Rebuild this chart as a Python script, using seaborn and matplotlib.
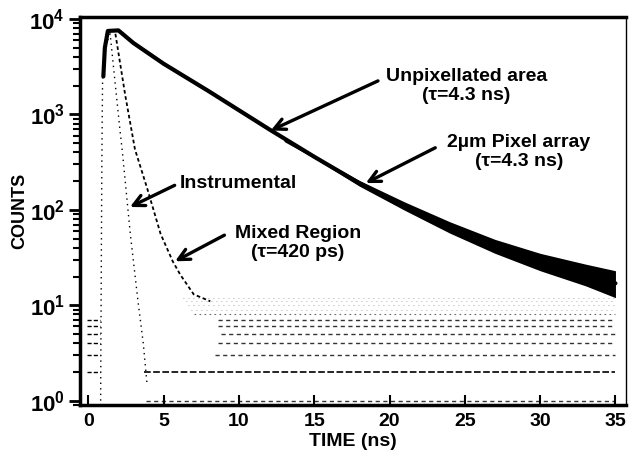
import numpy as np
import pandas as pd
import seaborn as sns
import matplotlib.pyplot as plt

sns.set_style("ticks", {'text.color': 'black', 'axes.labelcolor': 'black',
                        'xtick.color': 'black', 'ytick.color': 'black',
                        'axes.edgecolor': 'black'})
plt.rcParams['font.family'] = ['Liberation Sans', 'DejaVu Sans']
plt.rcParams['mathtext.fontset'] = 'custom'
plt.rcParams['mathtext.bf'] = 'Liberation Sans:bold'
plt.rcParams['mathtext.rm'] = 'Liberation Sans'

# thick decay curve (unpixellated area / 2um pixel array)
decay_time = [1.0, 1.1, 1.3, 2.0, 3.0, 5.0, 8.0, 12.0, 15.0, 18.0,
              21.0, 24.0, 27.0, 30.0, 33.0, 35.0]
decay_counts = [2500, 5000, 7500, 7600, 5600, 3400, 1750, 700, 360, 190,
                110, 66, 42, 29, 21, 17]

# noise spread of the decay at late times
band_time = [13, 15, 18, 21, 24, 27, 30, 33, 35]
band_high = [560, 372, 203, 121, 75, 49, 35, 27, 23]
band_low = [520, 348, 177, 99, 57, 35, 23, 16, 12]

# instrumental response
instr_time = [0.82, 0.86, 0.9, 0.95, 1.1, 1.45, 2.1, 2.26, 2.79, 3.3, 3.65, 3.9]
instr_counts = [1, 20, 300, 2500, 5000, 7000, 690, 410, 56, 11, 4, 1.5]

# mixed region decay
mixed_time = [1.8, 2.45, 3.1, 3.9, 4.8, 5.6, 6.1, 7.0, 8.1]
mixed_counts = [7000, 1600, 430, 170, 56, 29, 21, 13, 11]

# quantized background counts (level, first time seen)
level_counts = [1, 2, 3, 4, 5, 6, 7, 8, 9, 10, 11, 12]
level_start = [3.8, 3.7, 8.4, 8.6, 8.8, 8.6, 8.6, 7.0, 6.8, 6.6, 6.5, 6.3]
level_end = 35.0
pre_levels = [2, 3, 4, 5, 6, 7]
pre_start, pre_end = -0.1, 0.75

fig = plt.figure(figsize=(6.31, 4.59), dpi=100)
ax = fig.add_axes([80 / 631, 1 - 405 / 459, 546 / 631, 388 / 459])

# background levels
for lv, st in zip(level_counts, level_start):
    if lv == 2:
        ax.hlines(lv, st, level_end, colors='k', lw=1.2, linestyles=(0, (4, 1.5)))
    elif lv <= 7:
        ax.hlines(lv, st, level_end, colors='k', lw=1.0, linestyles=(0, (3, 2.5)), alpha=0.8)
    elif lv == 8:
        ax.hlines(lv, st, level_end, colors='k', lw=0.8, linestyles=(0, (1.5, 3)), alpha=0.6)
    else:
        ax.hlines(lv, st, level_end, colors='k', lw=0.6, linestyles=(0, (1, 5)), alpha=0.45)
for lv in pre_levels:
    ax.hlines(lv, pre_start, pre_end, colors='k', lw=1.0, linestyles=(0, (3, 1.5)))

df_instr = pd.DataFrame({'t': instr_time, 'c': instr_counts})
sns.lineplot(data=df_instr, x='t', y='c', ax=ax, color='k', lw=1.0,
             linestyle=(0, (1, 3)))

df_mixed = pd.DataFrame({'t': mixed_time, 'c': mixed_counts})
sns.lineplot(data=df_mixed, x='t', y='c', ax=ax, color='k', lw=1.3,
             linestyle=(0, (2, 1.5)))

df_decay = pd.DataFrame({'t': decay_time, 'c': decay_counts})
sns.lineplot(data=df_decay, x='t', y='c', ax=ax, color='k', lw=3)
ax.fill_between(band_time, band_low, band_high, color='k', lw=0)

ax.set_yscale('log')
ax.set_xlim(-0.55, 35.7)
ax.set_ylim(0.9, 1.05e4)

ax.set_xticks([0, 5, 10, 15, 20, 25, 30, 35])
ax.set_xticklabels([str(v) for v in [0, 5, 10, 15, 20, 25, 30, 35]],
                   fontsize=14, fontweight='bold')
ax.set_yticks([1, 10, 100, 1000, 10000])
ax.set_yticklabels([r'$\mathbf{10}^{\mathbf{%d}}$' % k for k in range(5)], fontsize=16)
ax.yaxis.set_minor_locator(plt.matplotlib.ticker.LogLocator(base=10, subs=np.arange(2, 10)))
ax.yaxis.set_minor_formatter(plt.NullFormatter())

ax.tick_params(axis='y', which='major', direction='out', length=8, width=2, pad=3)
ax.tick_params(axis='y', which='minor', direction='out', length=5, width=1.5)
ax.tick_params(axis='x', which='major', direction='in', length=7, width=1.5, pad=6)

for side in ['left', 'bottom', 'top']:
    ax.spines[side].set_linewidth(2.5)
ax.spines['right'].set_linewidth(1)

ax.set_xlabel('TIME (ns)', fontsize=14, fontweight='bold', labelpad=2)
ax.set_ylabel('COUNTS', fontsize=13, fontweight='bold')
ax.yaxis.set_label_coords(-0.094, 0.5)

txt = dict(fontsize=14, fontweight='bold', linespacing=1.15, color='black')
arr = dict(arrowstyle='->', lw=2.4, color='k', mutation_scale=20)

ax.text(25.1, 2000, 'Unpixellated area\n(\u03c4=4.3 ns)', ha='center', va='center', **txt)
ax.annotate('', xy=(11.95, 660), xytext=(19.4, 2310), arrowprops=arr)

ax.text(28.6, 408, '2\u00b5m Pixel array\n(\u03c4=4.3 ns)', ha='center', va='center', **txt)
ax.annotate('', xy=(18.26, 185), xytext=(23.2, 461), arrowprops=arr)

ax.text(6.1, 190, 'Instrumental', ha='left', va='center', **txt)
ax.annotate('', xy=(2.6, 104), xytext=(5.9, 186), arrowprops=arr)

ax.text(13.9, 45, 'Mixed Region\n(\u03c4=420 ps)', ha='center', va='center', **txt)
ax.annotate('', xy=(5.6, 28), xytext=(9.2, 56), arrowprops=arr)

fig.savefig('out.png', dpi=100)
